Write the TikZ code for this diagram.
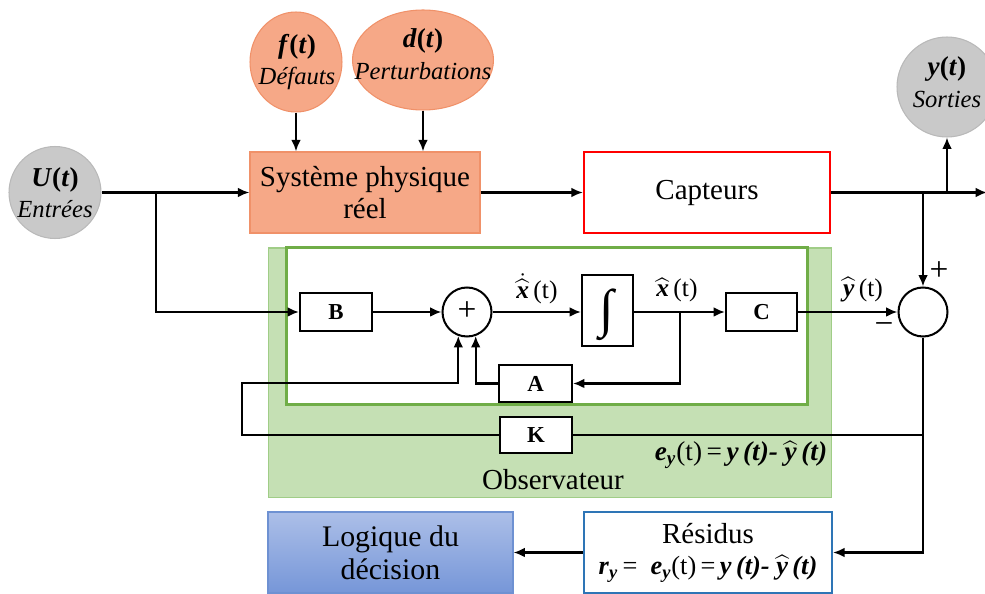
\documentclass[tikz,border=0pt]{standalone}
\usepackage{fontspec}
\setmainfont{Liberation Serif}
\usepackage{amsmath}
\usetikzlibrary{arrows.meta,calc,shapes.geometric}

\definecolor{salmonfill}{RGB}{246,168,135}
\definecolor{salmonedge}{RGB}{240,145,105}
\definecolor{obsfill}{RGB}{197,224,180}
\definecolor{obsedge}{RGB}{160,205,135}
\definecolor{obsgreen}{RGB}{112,173,71}
\definecolor{capred}{RGB}{255,0,0}
\definecolor{resblue}{RGB}{46,117,182}
\definecolor{logtop}{RGB}{172,191,232}
\definecolor{logbot}{RGB}{118,150,216}
\definecolor{logedge}{RGB}{110,145,210}
\definecolor{iofill}{RGB}{201,201,201}
\definecolor{ioedge}{RGB}{185,185,185}

% bold italic letters and function-of-time labels
\newcommand\bi[1]{\textbf{\textit{#1}}}
\newcommand\bfn[2]{{\fontsize{15.5}{15.5}\selectfont\bi{#1}\textbf{(}\bi{#2}\textbf{)}}}
\newcommand\bhat[1]{$\widehat{\text{\bi{#1}}}$}

\begin{document}
\begin{tikzpicture}[x=0.02cm,y=-0.02cm,
  wire/.style={line width=1.15pt},
  arr/.style={wire,-{Latex[length=6.5pt,width=5.5pt]}},
  iocirc/.style={circle,fill=iofill,draw=ioedge,line width=0.6pt,inner sep=0pt},
  perturb/.style={ellipse,fill=salmonfill,draw=salmonedge,line width=0.6pt,inner sep=0pt},
  inlabel/.style={inner sep=0pt,align=center,font=\fontsize{14}{18}\selectfont},
  sysbox/.style={rectangle,fill=salmonfill,draw=salmonedge,line width=0.8pt,inner sep=0pt,
    align=center,font=\fontsize{16.5}{18.7}\selectfont},
  capbox/.style={rectangle,fill=white,draw=capred,line width=1.3pt,inner sep=0pt,
    align=center,font=\fontsize{16.5}{18.7}\selectfont},
  obsbox/.style={rectangle,fill=obsfill,draw=obsedge,line width=0.6pt,inner sep=0pt},
  innerbox/.style={rectangle,fill=white,draw=obsgreen,line width=1.7pt,inner sep=0pt},
  blk/.style={rectangle,fill=white,draw=black,line width=1.15pt,inner sep=0pt,
    font=\bfseries\fontsize{13}{13}\selectfont},
  sumnode/.style={circle,fill=white,draw=black,line width=1.15pt,inner sep=0pt,minimum size=0.98cm},
  sign/.style={inner sep=0pt,font=\fontsize{19}{19}\selectfont},
  lbl/.style={inner sep=0pt,font=\fontsize{14.5}{14.5}\selectfont},
  eqlbl/.style={inner sep=0pt,font=\fontsize{15.5}{15.5}\selectfont},
  resbox/.style={rectangle,fill=white,draw=resblue,line width=1.3pt,inner sep=0pt,
    align=center,font=\fontsize{16.5}{18.7}\selectfont},
  logbox/.style={rectangle,top color=logtop,bottom color=logbot,draw=logedge,line width=0.6pt,
    inner sep=0pt,align=center,font=\fontsize{17}{19}\selectfont}
]
\useasboundingbox (0,0) rectangle (985,594);

% observer frame (drawn first, everything else sits on top)
\node[obsbox,minimum width=11.28cm,minimum height=5cm] (obs) at (550,373) {};
\node[innerbox,minimum width=10.44cm,minimum height=3.16cm] (inner) at (547,326) {};
\node[inner sep=0pt,font=\fontsize{16.5}{16.5}\selectfont] (obslbl) at (553,480) {Observateur};

% inputs, disturbances and outputs
\node[iocirc,minimum size=1.84cm] (U) at (55,192.5) {};
\node[inlabel] (Utxt) at (U.center) {\bfn{U}{t}\\\textit{Entrées}};
\node[perturb,minimum width=1.84cm,minimum height=2cm] (f) at (296,62) {};
\node[inlabel] (ftxt) at (297,62) {\bfn{f}{t}\\\textit{Défauts}};
\node[perturb,minimum width=2.82cm,minimum height=2cm] (d) at (423,60) {};
\node[inlabel] (dtxt) at (423,54) {\bfn{d}{t}\\\textit{Perturbations}};
\node[iocirc,minimum size=2cm] (Y) at (947,87) {};
\node[inlabel] (Ytxt) at (947,82) {\bfn{y}{t}\\\textit{Sorties}};

% process and sensors
\node[sysbox,minimum width=4.6cm,minimum height=1.62cm] (sys) at (365,192.5) {Système physique\\réel};
\node[capbox,minimum width=4.92cm,minimum height=1.62cm] (cap) at (707,192.5) {Capteurs};

% observer blocks
\node[blk,minimum width=1.44cm,minimum height=0.76cm] (B) at (336,312) {B};
\node[sumnode] (S1) at (467,312) {};
\node[sign] (S1plus) at (467,311) {+};
\node[blk,minimum width=1.02cm,minimum height=1.42cm] (int) at (607.5,310.5) {};
\node[inner sep=0pt,font=\bfseries\fontsize{30}{30}\selectfont] (intsym) at (607,315) {∫};
\node[blk,minimum width=1.42cm,minimum height=0.76cm] (C) at (761.5,312) {C};
\node[blk,minimum width=1.46cm,minimum height=0.74cm] (A) at (535.5,383.5) {A};
\node[blk,minimum width=1.44cm,minimum height=0.72cm] (K) at (536,435) {K};

% output comparator
\node[sumnode] (S2) at (923,312) {};
\node[sign] (pl) at (939,271) {+};
\node[sign] (mi) at (884,329) {−};

% residual evaluation and decision
\node[resbox,minimum width=4.96cm,minimum height=1.62cm] (res) at (708,552.5)
  {Résidus\\[-1pt]{\fontsize{15}{15}\selectfont\bi{r}\textsubscript{\bi{y}}\,=\ \ \bi{e}\textsubscript{\bi{y}}(t)\,=\,\bi{y\,(t)-}\ \bhat{y}\,\bi{(t)}}};
\node[logbox,minimum width=4.9cm,minimum height=1.62cm] (log) at (390.5,552.5) {Logique du\\décision};

% signal labels
\node[lbl] (xdl) at (537,289) {$\dot{\widehat{\text{\bi{x}}}}$\,(t)};
\node[lbl] (xhl) at (677,290) {\bhat{x}\,(t)};
\node[lbl] (yhl) at (863,290) {\bhat{y}\,(t)};
\node[eqlbl] (eyl) at (741,455) {\bi{e}\textsubscript{\bi{y}}(t)\,=\,\bi{y\,(t)-}\ \bhat{y}\,\bi{(t)}};

% junctions
\coordinate (jU) at (156,192.5);
\coordinate (jOut) at (987,192.5);
\coordinate (jY) at (947,192.5);
\coordinate (jS) at (923,192.5);
\coordinate (jX) at (680,312);
\coordinate (jK) at (923,435);
\coordinate (kLow) at (242,435);
\coordinate (kUp) at (242,383);

% process path
\draw[arr] (U.east) -- (sys.west);
\draw[arr] (f.south) -- (f.south |- sys.north);
\draw[arr] (d.south) -- (d.south |- sys.north);
\draw[arr] (sys.east) -- (cap.west);
\draw[arr] (cap.east) -- (jOut);
\draw[arr] (jY) -- (Y.south);
\draw[arr] (jS) -- (S2.north);

% observer dynamics
\draw[arr] (jU) |- (B.west);
\draw[arr] (B.east) -- (S1.west);
\draw[arr] (S1.east) -- (S1.east -| int.west);
\draw[arr] (S1.east -| int.east) -- (C.west);
\draw[arr] (jX) |- (A.east);
\draw[arr] (A.west) -| (S1.-70);
\draw[arr] (C.east) -- (S2.west);

% output error feedback through K
\draw[wire] (jK) -- (K.east);
\draw[arr] (K.west) -- (kLow) -- (kUp) -| (S1.-110);

% residual and decision
\draw[arr] (S2.south) |- (res.east);
\draw[arr] (res.west) -- (log.east);
\end{tikzpicture}
\end{document}
